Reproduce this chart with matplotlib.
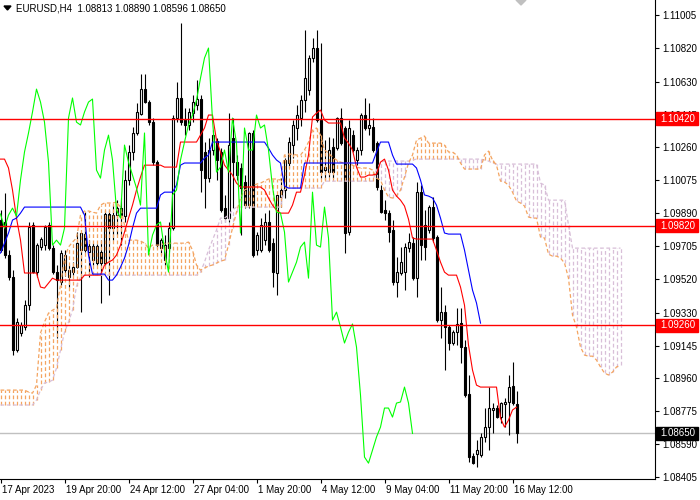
import numpy as np
import matplotlib
matplotlib.use("Agg")
import matplotlib.pyplot as plt
from matplotlib.patches import Polygon, Rectangle
from matplotlib.transforms import ScaledTranslation

# EURUSD H4, 17 Apr - 16 May 2023, one value per bar
open_ = [
    1.09851, 1.09840, 1.09654, 1.09530, 1.09119, 1.09215, 1.09249, 1.09372, 1.09823, 1.09558,
    1.09699, 1.09710, 1.09823, 1.09693, 1.09558, 1.09502, 1.09569, 1.09530, 1.09558, 1.09586,
    1.09682, 1.09772, 1.09671, 1.09626, 1.09609, 1.09671, 1.09609, 1.09885, 1.09806, 1.09879,
    1.09918, 1.09873, 1.10076, 1.10234, 1.10341, 1.10447, 1.10588, 1.10515, 1.10402, 1.10177,
    1.09693, 1.09626, 1.09693, 1.09806, 1.10425, 1.10538, 1.10414, 1.10386, 1.10453, 1.10498,
    1.10532, 1.10234, 1.10087, 1.10245, 1.10296, 1.10234, 1.09918, 1.09862, 1.10312, 1.10177,
    1.10144, 1.10065, 1.09935, 1.10341, 1.09682, 1.09682, 1.09738, 1.09840, 1.09721, 1.09553,
    1.09980, 1.10020, 1.10172, 1.10273, 1.10369, 1.10425, 1.10526, 1.10583, 1.10763, 1.10819,
    1.10414, 1.10132, 1.10121, 1.10262, 1.10256, 1.10425, 1.10369, 1.09783, 1.10329, 1.10189,
    1.10245, 1.10442, 1.10369, 1.10374, 1.10284, 1.10020, 1.09907, 1.09890, 1.09795, 1.09502,
    1.09553, 1.09558, 1.09693, 1.09721, 1.09524, 1.10008, 1.09823, 1.09795, 1.09924, 1.09755,
    1.09288, 1.09333, 1.09249, 1.09159, 1.09220, 1.09271, 1.09136, 1.08872, 1.08523, 1.08534,
    1.08528, 1.08630, 1.08686, 1.08782, 1.08793, 1.08742, 1.08815, 1.08827, 1.08917, 1.08813,
]
high_ = [
    1.09907, 1.10003, 1.09682, 1.09569, 1.09299, 1.09277, 1.09401, 1.09840, 1.09840, 1.09721,
    1.09755, 1.09823, 1.09840, 1.09710, 1.09598, 1.09682, 1.09682, 1.09598, 1.09614, 1.09783,
    1.09783, 1.09896, 1.09738, 1.09721, 1.09716, 1.09738, 1.09907, 1.09907, 1.09935, 1.09963,
    1.09975, 1.10132, 1.10273, 1.10374, 1.10509, 1.10673, 1.10673, 1.10526, 1.10425, 1.10189,
    1.09750, 1.09766, 1.09840, 1.10442, 1.10628, 1.10960, 1.10481, 1.10481, 1.10554, 1.10639,
    1.10554, 1.10290, 1.10312, 1.10357, 1.10312, 1.10256, 1.09992, 1.10453, 1.10425, 1.10217,
    1.10172, 1.10104, 1.10346, 1.10357, 1.09783, 1.09862, 1.09890, 1.09907, 1.09750, 1.09924,
    1.10087, 1.10200, 1.10318, 1.10414, 1.10498, 1.10554, 1.10920, 1.10780, 1.10875, 1.10920,
    1.10847, 1.10301, 1.10318, 1.10312, 1.10431, 1.10481, 1.10380, 1.10414, 1.10357, 1.10262,
    1.10453, 1.10538, 1.10509, 1.10425, 1.10296, 1.10048, 1.09963, 1.09907, 1.09851, 1.09643,
    1.09699, 1.09721, 1.09778, 1.09755, 1.10065, 1.10048, 1.09907, 1.09935, 1.09980, 1.09766,
    1.09474, 1.09372, 1.09260, 1.09232, 1.09356, 1.09356, 1.09175, 1.08979, 1.08540, 1.08613,
    1.08652, 1.08793, 1.08911, 1.08821, 1.08810, 1.08827, 1.08849, 1.08979, 1.09052, 1.08890,
]
low_ = [
    1.09671, 1.09637, 1.09513, 1.09091, 1.09108, 1.09198, 1.09232, 1.09344, 1.09553, 1.09530,
    1.09682, 1.09682, 1.09682, 1.09547, 1.09187, 1.09485, 1.09536, 1.09474, 1.09541, 1.09581,
    1.09333, 1.09671, 1.09530, 1.09598, 1.09598, 1.09384, 1.09598, 1.09429, 1.09738, 1.09766,
    1.09710, 1.09840, 1.10048, 1.10189, 1.10329, 1.10442, 1.10509, 1.10386, 1.10160, 1.09693,
    1.09654, 1.09598, 1.09671, 1.09795, 1.10402, 1.10386, 1.10329, 1.10357, 1.10402, 1.10470,
    1.10008, 1.09918, 1.10065, 1.10217, 1.10076, 1.09896, 1.09840, 1.09840, 1.09918, 1.10076,
    1.09766, 1.09918, 1.09918, 1.09643, 1.09654, 1.09671, 1.09710, 1.09671, 1.09474, 1.09429,
    1.09924, 1.09975, 1.10144, 1.10200, 1.10301, 1.10380, 1.10459, 1.10554, 1.10740, 1.10402,
    1.10087, 1.10076, 1.10093, 1.10087, 1.10245, 1.10273, 1.09665, 1.09766, 1.10234, 1.10160,
    1.10217, 1.10357, 1.10329, 1.10234, 1.10020, 1.09890, 1.09851, 1.09727, 1.09485, 1.09417,
    1.09541, 1.09457, 1.09671, 1.09513, 1.09417, 1.09626, 1.09626, 1.09778, 1.09727, 1.09277,
    1.09187, 1.09007, 1.09119, 1.09147, 1.09147, 1.09046, 1.08855, 1.08489, 1.08478, 1.08461,
    1.08517, 1.08601, 1.08556, 1.08652, 1.08736, 1.08708, 1.08686, 1.08641, 1.08810, 1.08596,
]
close_ = [
    1.09682, 1.09654, 1.09530, 1.09119, 1.09277, 1.09260, 1.09372, 1.09811, 1.09558, 1.09710,
    1.09744, 1.09811, 1.09693, 1.09558, 1.09513, 1.09665, 1.09654, 1.09569, 1.09586, 1.09721,
    1.09778, 1.09682, 1.09705, 1.09705, 1.09705, 1.09609, 1.09885, 1.09806, 1.09879, 1.09918,
    1.09873, 1.10076, 1.10234, 1.10341, 1.10459, 1.10588, 1.10515, 1.10402, 1.10177, 1.09710,
    1.09738, 1.09710, 1.09806, 1.10425, 1.10538, 1.10402, 1.10386, 1.10459, 1.10515, 1.10532,
    1.10132, 1.10087, 1.10245, 1.10329, 1.10189, 1.09907, 1.09862, 1.10273, 1.10177, 1.10104,
    1.10031, 1.09935, 1.10341, 1.09654, 1.09766, 1.09823, 1.09840, 1.09682, 1.09558, 1.09992,
    1.10020, 1.10189, 1.10290, 1.10386, 1.10442, 1.10526, 1.10650, 1.10763, 1.10819, 1.10414,
    1.10121, 1.10149, 1.10245, 1.10121, 1.10425, 1.10284, 1.09778, 1.10369, 1.10245, 1.10245,
    1.10442, 1.10369, 1.10386, 1.10245, 1.10037, 1.09896, 1.09890, 1.09783, 1.09502, 1.09558,
    1.09614, 1.09699, 1.09727, 1.09524, 1.10008, 1.09710, 1.09699, 1.09924, 1.09750, 1.09288,
    1.09333, 1.09249, 1.09159, 1.09220, 1.09266, 1.09136, 1.08866, 1.08517, 1.08483, 1.08556,
    1.08630, 1.08686, 1.08793, 1.08793, 1.08742, 1.08821, 1.08827, 1.08911, 1.08821, 1.08650,
]

tenkan = ([1.10194, 1.10194, 1.10144, 1.10020, 1.09862, 1.09738] + [1.09553] * 4
          + [1.09474, 1.09468, 1.09496, 1.09524] + [1.09513] * 7 + [1.09541] * 5
          + [1.09598, 1.09614, 1.09626, 1.09654, 1.09710, 1.09783, 1.09862, 1.09935, 1.10020, 1.10093]
          + [1.10160] * 5 + [1.10149] * 4 + [1.10290] * 5
          + [1.10329, 1.10369, 1.10442, 1.10442, 1.10301, 1.10234, 1.10160, 1.10132, 1.10104, 1.10059]
          + [1.10037] * 6
          + [1.10020, 1.09975, 1.09935, 1.09907, 1.09890, 1.09890, 1.09890, 1.09935, 1.10008, 1.10008]
          + [1.10104, 1.10217, 1.10431, 1.10453, 1.10470, 1.10414] + [1.10397] * 4
          + [1.10312, 1.10284, 1.10245, 1.10149, 1.10093, 1.10093, 1.10104, 1.10104, 1.10110, 1.10177]
          + [1.10194, 1.10132, 1.10020, 1.09986, 1.09963, 1.09930, 1.09856, 1.09750] + [1.09744] * 5
          + [1.09682, 1.09614, 1.09558] + [1.09541] * 3
          + [1.09474, 1.09372, 1.09147, 1.09007, 1.08922] + [1.08911] * 5
          + [1.08736, 1.08686, 1.08725, 1.08782, 1.08798])

kijun = ([1.09665, 1.09721, 1.09778, 1.09851, 1.09862, 1.09890] + [1.09924] * 15
         + [1.09879, 1.09654] + [1.09547] * 4
         + [1.09513, 1.09513, 1.09541, 1.09586, 1.09637, 1.09710, 1.09806, 1.09890]
         + [1.09918] * 5 + [1.09992] + [1.10008] * 3 + [1.10048, 1.10160]
         + [1.10172] * 5 + [1.10200, 1.10217] + [1.10290] * 14
         + [1.10256, 1.10217, 1.10189, 1.10172, 1.10042] + [1.10031] * 4
         + [1.10172] * 18 + [1.10234] + [1.10290] * 3 + [1.10217] + [1.10166] * 5
         + [1.10144, 1.10076, 1.09992, 1.09986, 1.09975, 1.09935, 1.09862, 1.09778]
         + [1.09772] * 4 + [1.09682, 1.09569, 1.09457, 1.09384, 1.09271])

span_a = ([1.08894] * 7
          + [1.08883, 1.08877, 1.08922, 1.09215, 1.09277, 1.09327, 1.09344, 1.09356, 1.09485, 1.09637,
             1.09699, 1.09727, 1.09750]
          + [1.09879, 1.09902, 1.09902, 1.09896, 1.09890, 1.09935, 1.09947, 1.09947, 1.09947, 1.09952]
          + [1.09924, 1.09823, 1.09738, 1.09738, 1.09738, 1.09733, 1.09721, 1.09693]
          + [1.09710] * 3 + [1.09721] * 6 + [1.09727, 1.09682, 1.09598]
          + [1.09569, 1.09581, 1.09592, 1.09598, 1.09609, 1.09620, 1.09626, 1.09710, 1.09806, 1.09896]
          + [1.09975, 1.10020, 1.10031, 1.10042, 1.10053, 1.10059, 1.10070] + [1.10082] * 3 + [1.10076]
          + [1.10217, 1.10222, 1.10222, 1.10217, 1.10217, 1.10245, 1.10290, 1.10357, 1.10369, 1.10329]
          + [1.10245, 1.10228, 1.10205, 1.10189, 1.10177, 1.10172, 1.10172, 1.10160, 1.10149]
          + [1.10144] * 3 + [1.10132, 1.10087, 1.10076, 1.10020, 1.09980, 1.09975, 1.09986]
          + [1.10020, 1.10093, 1.10172, 1.10217, 1.10301, 1.10312, 1.10324] + [1.10284] * 4
          + [1.10273, 1.10234, 1.10234, 1.10217, 1.10172] + [1.10138] * 5
          + [1.10217, 1.10239, 1.10189, 1.10160, 1.10070, 1.10065, 1.10048, 1.10008, 1.09958, 1.09947]
          + [1.09930, 1.09868, 1.09862, 1.09862, 1.09755, 1.09750, 1.09659, 1.09648, 1.09648, 1.09637]
          + [1.09609, 1.09524, 1.09316, 1.09249, 1.09136, 1.09091, 1.09085, 1.09085, 1.09063, 1.09024]
          + [1.08990, 1.08979, 1.08995, 1.09024, 1.09035])

span_b = ([1.08810] * 9
          + [1.08838, 1.08894, 1.08934, 1.08939, 1.08950, 1.09018, 1.09119, 1.09220, 1.09277, 1.09344,
             1.09479, 1.09530]
          + [1.09541] * 29
          + [1.09558, 1.09614, 1.09682, 1.09738, 1.09795, 1.09862, 1.09862, 1.09879, 1.09907]
          + [1.09924] * 12 + [1.10031] * 10 + [1.10070] * 13
          + [1.10132, 1.10177] + [1.10183] * 7 + [1.10189] + [1.10194] * 17
          + [1.10189, 1.10183, 1.10172] + [1.10166] * 11
          + [1.10059, 1.10048] + [1.09963] * 5 + [1.09823] + [1.09693] * 13)

red_levels = [1.10420, 1.09820, 1.09260]
last_price = 1.08650
price_ticks = [1.11005, 1.10820, 1.10630, 1.10445, 1.10260, 1.10075, 1.09890, 1.09705,
               1.09520, 1.09330, 1.09145, 1.08960, 1.08775, 1.08590, 1.08405]
date_ticks = [0, 16, 32, 48, 64, 80, 96, 112, 128]
date_labels = ["17 Apr 2023", "19 Apr 20:00", "24 Apr 12:00", "27 Apr 04:00", "1 May 20:00",
               "4 May 12:00", "9 May 04:00", "11 May 20:00", "16 May 12:00"]
title = "EURUSD,H4  1.08813 1.08890 1.08596 1.08650"

plt.rcParams['font.family'] = ['Liberation Sans', 'DejaVu Sans']

W, H = 700, 500
y_top, y_bot = 1.110894, 1.083937
px = (y_top - y_bot) / 479.0
lw = 0.8

fig = plt.figure(figsize=(7, 5), dpi=100)
ax = fig.add_axes([0, 21 / H, 655 / W, 479 / H])
ax.set_xlim(-0.125, 163.625)
ax.set_ylim(y_bot, y_top)

o = np.array(open_)
h = np.array(high_)
l = np.array(low_)
c = np.array(close_)
x = np.arange(len(c))
up = c >= o

# candles
ax.vlines(x, l, h, colors='black', lw=lw, zorder=2)
ax.bar(x[up], np.maximum(c[up] - o[up], 1e-6), bottom=o[up], width=0.5,
       color='white', edgecolor='black', lw=lw, zorder=2.1)
ax.bar(x[~up], o[~up] - c[~up], bottom=c[~up], width=0.5,
       color='black', edgecolor='black', lw=lw, zorder=2.1)

# kumo: dotted columns between the two spans
sa = np.array(span_a)
sb = np.array(span_b)
xs = np.arange(len(sa))
bull = sa >= sb
dash = (0, (3, 2))
ax.vlines(xs[bull], sb[bull], sa[bull], colors='#F4A460', lw=0.9, linestyles=[dash], zorder=3)
ax.vlines(xs[~bull], sa[~bull], sb[~bull], colors='#D8BFD8', lw=0.9, linestyles=[dash], zorder=3)
ax.plot(xs, sb, color='#D8BFD8', lw=0.9, ls=dash, zorder=3.1)
ax.plot(xs, sa, color='#F4A460', lw=0.9, ls=dash, zorder=3.2)

# tenkan, kijun, chikou
ax.plot(np.arange(len(tenkan)), tenkan, color='#FF0000', lw=lw, zorder=4)
ax.plot(np.arange(len(kijun)), kijun, color='#0000FF', lw=lw, zorder=4)
ax.plot(np.arange(len(c) - 26), c[26:], color='#00FF00', lw=lw, zorder=4)

# levels
for p in red_levels:
    ax.axhline(p, color='#FF0000', lw=1.0, zorder=5)
ax.axhline(last_price, color='#C0C0C0', lw=1.0, zorder=1.5)

# axes look
for s in ['left', 'top']:
    ax.spines[s].set_visible(False)
for s in ['right', 'bottom']:
    ax.spines[s].set_linewidth(lw)
ax.yaxis.tick_right()
ax.set_yticks(price_ticks)
ax.set_yticklabels([f"{p:.5f}" for p in price_ticks])
ax.tick_params(axis='y', direction='out', length=3, width=lw, pad=2, labelsize=7)
ax.set_xticks(date_ticks)
ax.set_xticklabels(date_labels, ha='left')
ax.tick_params(axis='x', direction='out', length=3, width=lw, pad=1.5, labelsize=7)
for lab in ax.get_xticklabels():
    lab.set_transform(lab.get_transform() + ScaledTranslation(2 / 100, 0, fig.dpi_scale_trans))

# price boxes on the right scale
ytr = ax.get_yaxis_transform()
box_h = 13 * px
for p, col in [(p, '#FF0000') for p in red_levels] + [(last_price, 'black')]:
    ax.add_patch(Rectangle((1.0015, p - box_h / 2), 42 / 655, box_h, transform=ytr,
                           color=col, clip_on=False, zorder=6))
    ax.text(1 + 5 / 655, p, f"{p:.5f}", transform=ytr, color='white', fontsize=7,
            va='center', ha='left', zorder=7, clip_on=False)

# header and markers
fig.text(16 / W, 1 - 8.5 / H, title, fontsize=7, va='center', ha='left')
fig.patches.append(Polygon([(4 / W, 1 - 6 / H), (11 / W, 1 - 6 / H), (7.5 / W, 1 - 10 / H)],
                           closed=True, color='black', transform=fig.transFigure))
fig.patches.append(Polygon([(516 / W, 1.0), (526 / W, 1.0), (521 / W, 1 - 5 / H)],
                           closed=True, color='#C0C0C0', transform=fig.transFigure))

fig.savefig("out.png", dpi=100)
